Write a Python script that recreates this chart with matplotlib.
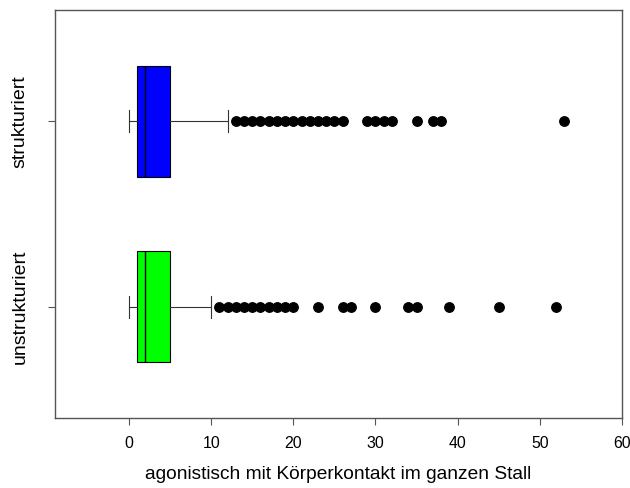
import matplotlib
matplotlib.use("Agg")
import matplotlib.pyplot as plt

plt.rcParams['font.family'] = ['Liberation Sans', 'DejaVu Sans']

categories = ["unstrukturiert", "strukturiert"]
colors = ["#00FF00", "#0000FF"]
q1 = [1, 1]
median = [2, 2]
q3 = [5, 5]
whisker_low = [0, 0]
whisker_high = [10, 12]
outliers_unstrukturiert = [11, 12, 13, 14, 15, 16, 17, 18, 19, 20, 23, 26, 27, 30, 34, 35, 39, 45, 52]
outliers_strukturiert = [13, 14, 15, 16, 17, 18, 19, 20, 21, 22, 23, 24, 25, 26,
                         29, 30, 31, 32, 35, 37, 38, 53]
outliers = [outliers_unstrukturiert, outliers_strukturiert]
xticks = [0, 10, 20, 30, 40, 50, 60]
xlabel = "agonistisch mit Körperkontakt im ganzen Stall"

stats = []
for i, c in enumerate(categories):
    stats.append(dict(label=c, q1=q1[i], med=median[i], q3=q3[i],
                      whislo=whisker_low[i], whishi=whisker_high[i],
                      fliers=outliers[i]))

fig = plt.figure(figsize=(6.3, 4.88), dpi=100)
ax = fig.add_axes([55/630, 1-418/488, (622-55)/630, (418-10)/488])

bp = ax.bxp(stats, positions=[1, 2], vert=False, widths=0.6, capwidths=0.12,
            patch_artist=True, showfliers=True,
            boxprops=dict(edgecolor='black', linewidth=0.8),
            medianprops=dict(color='black', linewidth=1.0),
            whiskerprops=dict(color='#333333', linewidth=0.8),
            capprops=dict(color='#333333', linewidth=0.8),
            flierprops=dict(marker='o', markerfacecolor='black',
                            markeredgecolor='black', markersize=6.8))
for patch, col in zip(bp['boxes'], colors):
    patch.set_facecolor(col)

ax.set_xlim(-9, 60)
ax.set_ylim(0.4, 2.6)
ax.set_xticks(xticks)
ax.set_xticklabels([str(t) for t in xticks], fontsize=11.4)
ax.set_yticks([1, 2])
ax.set_yticklabels(categories, rotation=90, va='center', fontsize=14)
ax.tick_params(axis='y', length=5, pad=14, color='#555555')
ax.tick_params(axis='x', length=5, pad=8, color='#555555')
for s in ax.spines.values():
    s.set_color('#555555')
    s.set_linewidth(1.0)
ax.set_xlabel(xlabel, fontsize=13.8, labelpad=11)

fig.savefig("out.png", dpi=100)
